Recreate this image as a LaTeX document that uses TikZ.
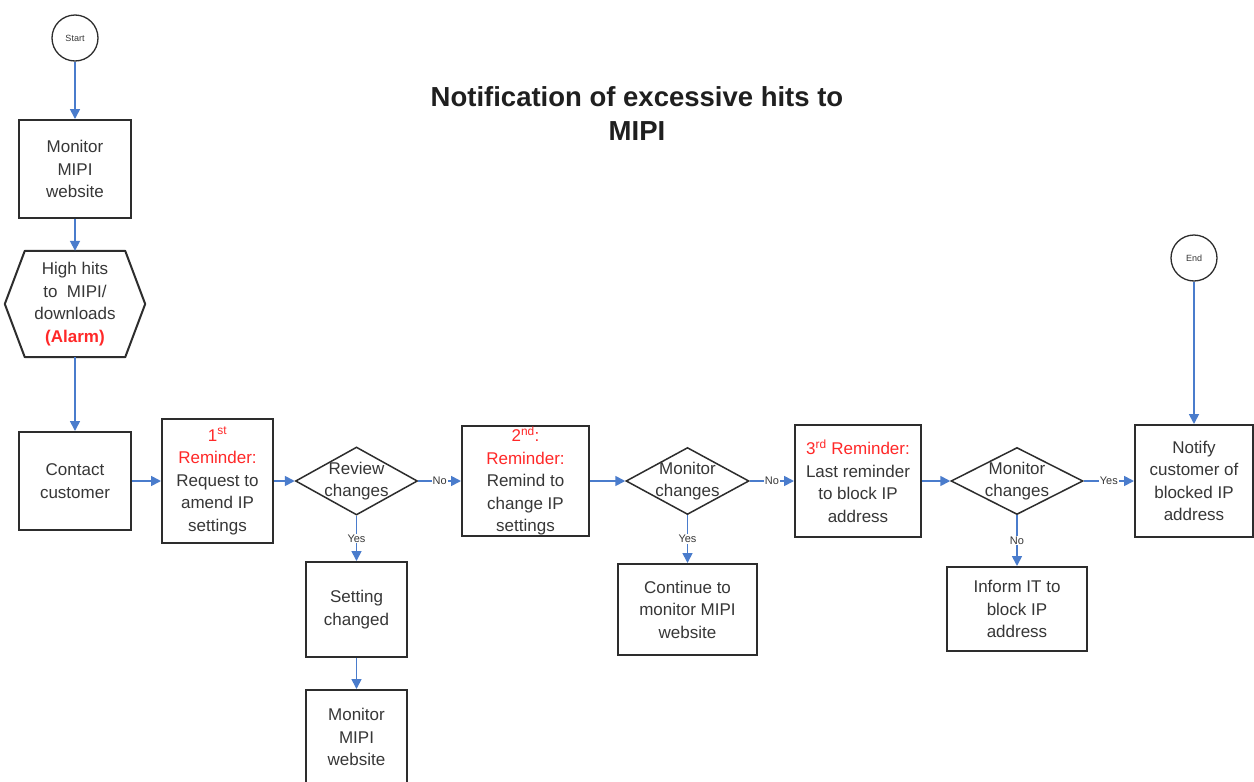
\documentclass[tikz,border=0pt]{standalone}
\usepackage{fontspec}
\setmainfont{Liberation Sans}
\usetikzlibrary{arrows.meta,shapes.geometric,calc}
\definecolor{conn}{RGB}{74,124,204}
\definecolor{edgegray}{RGB}{45,45,45}
\definecolor{txt}{RGB}{55,55,55}
\definecolor{alarm}{RGB}{255,40,40}
\begin{document}
\begin{tikzpicture}[x=1pt,y=-1pt,
 every node/.style={text=txt},
 body/.style={font=\fontsize{17}{22.5}\selectfont, align=center},
 box/.style={body, draw=edgegray, line width=2pt, fill=white, inner sep=0pt},
 term/.style={circle, draw=edgegray, line width=1.3pt, fill=white, minimum size=46pt, inner sep=0pt, font=\fontsize{9}{10}\selectfont},
 dia/.style={diamond, draw=edgegray, line width=1.5pt, inner sep=0pt, fill=white},
 flow/.style={draw=conn, line width=1.7pt, -{Triangle[length=10pt,width=10pt]}},
 lab/.style={font=\fontsize{11}{12}\selectfont, fill=white, inner sep=1pt},
 diatext/.style={body}]
\useasboundingbox[fill=white] (0,0) rectangle (1254,782);

\node[font=\bfseries\fontsize{27.5}{34}\selectfont, align=center, text=black!88] (title) at (637,114) {Notification of excessive hits to\\MIPI};

\node[term] (startc) at (75,38) {Start};
\node[box, minimum width=112pt, minimum height=98pt] (mon1) at (75,169) {Monitor\\MIPI\\website};
\node[body, minimum width=140pt, minimum height=106pt, inner sep=0pt] (hex) at (75,304) {High hits\\to\ \ MIPI/\\downloads\\\textcolor{alarm}{\bfseries (Alarm)}};
\draw[draw=edgegray, line width=2pt, line join=round] (hex.west) -- ($(hex.north west)+(20,0)$) -- ($(hex.north east)+(-20,0)$) -- (hex.east) -- ($(hex.south east)+(-20,0)$) -- ($(hex.south west)+(20,0)$) -- cycle;
\node[box, minimum width=112pt, minimum height=98pt] (contact) at (75,481) {Contact\\customer};

\node[box, minimum width=111pt, minimum height=124pt] (r1) at (217.5,481) {\textcolor{alarm}{1\textsuperscript{st}}\\\textcolor{alarm}{Reminder:}\\Request to\\amend IP\\settings};
\node[dia, minimum width=122pt, minimum height=68pt, label={[diatext]center:Review\\changes}] (d1) at (356.5,481) {};
\node[box, minimum width=127pt, minimum height=110pt] (r2) at (525.5,481) {\textcolor{alarm}{2\textsuperscript{nd}:}\\\textcolor{alarm}{Reminder:}\\Remind to\\change IP\\settings};
\node[dia, minimum width=123pt, minimum height=67pt, label={[diatext]center:Monitor\\changes}] (d2) at (687.5,481) {};
\node[box, minimum width=126pt, minimum height=112pt] (r3) at (858,481) {\textcolor{alarm}{3\textsuperscript{rd} Reminder:}\\Last reminder\\to block IP\\address};
\node[dia, minimum width=132pt, minimum height=67pt, label={[diatext]center:Monitor\\changes}] (d3) at (1017,481) {};
\node[box, minimum width=118pt, minimum height=112pt] (notify) at (1194,481) {Notify\\customer of\\blocked IP\\address};
\node[term] (endc) at (1194,258) {End};

\node[box, minimum width=101pt, minimum height=95pt] (setc) at (356.5,609.5) {Setting\\changed};
\node[box, minimum width=101pt, minimum height=94pt] (mon2) at (356.5,737) {Monitor\\MIPI\\website};
\node[box, minimum width=139pt, minimum height=91pt] (cont) at (687.5,609.5) {Continue to\\monitor MIPI\\website};
\node[box, minimum width=140pt, minimum height=84pt] (inform) at (1017,609) {Inform IT to\\block IP\\address};

\draw[flow] (startc) -- (mon1);
\draw[flow] (mon1) -- (hex.north);
\draw[flow] (hex.south) -- (contact);
\draw[flow] (contact) -- (r1);
\draw[flow] (r1) -- (d1);
\draw[flow] (d1) -- node[lab] {No} (r2);
\draw[flow] (d1) -- node[lab] {Yes} (setc);
\draw[flow] (setc) -- (mon2);
\draw[flow] (r2) -- (d2);
\draw[flow] (d2) -- node[lab] {No} (r3);
\draw[flow] (d2) -- node[lab] {Yes} (cont);
\draw[flow] (r3) -- (d3);
\draw[flow] (d3) -- node[lab] {Yes} (notify);
\draw[flow] (d3) -- node[lab] {No} (inform);
\draw[flow] (endc) -- (notify);
\end{tikzpicture}
\end{document}
